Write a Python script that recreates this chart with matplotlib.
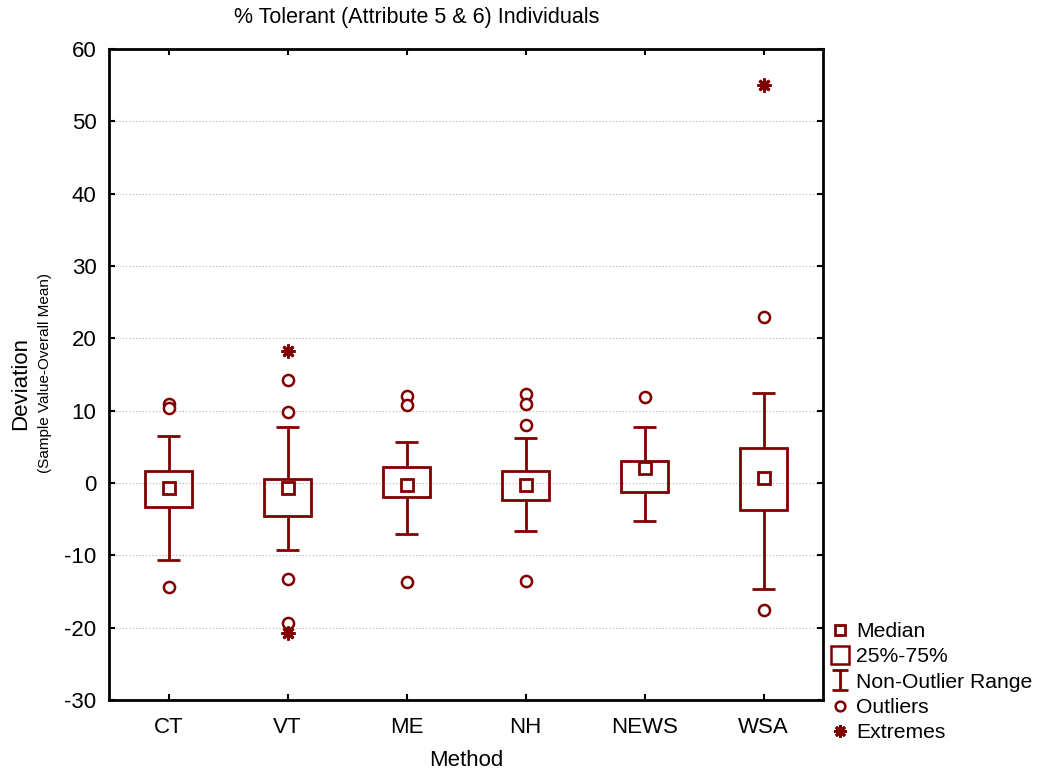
import matplotlib
matplotlib.use("Agg")
import matplotlib.pyplot as plt
from matplotlib.lines import Line2D
from matplotlib.path import Path

plt.rcParams['font.family'] = ['Liberation Sans', 'DejaVu Sans']
plt.rcParams['axes.unicode_minus'] = False

methods = ["CT", "VT", "ME", "NH", "NEWS", "WSA"]
medians = [-0.75, -0.75, -0.3, -0.3, 2.1, 0.7]
q1 = [-3.3, -4.6, -2.0, -2.3, -1.2, -3.7]
q3 = [1.7, 0.55, 2.25, 1.65, 3.1, 4.8]
whis_lo = [-10.7, -9.25, -7.0, -6.7, -5.2, -14.7]
whis_hi = [6.5, 7.7, 5.65, 6.2, 7.7, 12.5]
outliers = [
    [10.9, 10.3, -14.4],
    [9.8, 14.3, -13.25, -19.4],
    [12.0, 10.75, -13.7],
    [12.3, 10.9, 7.95, -13.5],
    [11.9],
    [23.0, -17.5],
]
extremes = [
    [],
    [18.2, -20.7],
    [],
    [],
    [],
    [55.0],
]
yticks = [-30, -20, -10, 0, 10, 20, 30, 40, 50, 60]

col = "#800000"
W, H = 1039, 776
fig = plt.figure(figsize=(W / 100, H / 100), dpi=100)
ax = fig.add_axes([109 / W, 1 - 700 / H, (823 - 109) / W, (700 - 49) / H])

x = list(range(len(methods)))
bw = 0.4
cw = 0.2

ax.bar(x, [b - a for a, b in zip(q1, q3)], bottom=q1, width=bw,
       facecolor="none", edgecolor=col, linewidth=2, zorder=3)
ax.vlines(x, q3, whis_hi, color=col, linewidth=2, zorder=3)
ax.vlines(x, whis_lo, q1, color=col, linewidth=2, zorder=3)
ax.hlines(whis_hi, [i - cw / 2 for i in x], [i + cw / 2 for i in x], color=col, linewidth=2, zorder=3)
ax.hlines(whis_lo, [i - cw / 2 for i in x], [i + cw / 2 for i in x], color=col, linewidth=2, zorder=3)
ax.plot(x, medians, linestyle="none", marker="s", markersize=8,
        markerfacecolor="white", markeredgecolor=col, markeredgewidth=2, zorder=4)
for i, vals in enumerate(outliers):
    ax.plot([i] * len(vals), vals, linestyle="none", marker="o", markersize=8,
            markerfacecolor="white", markeredgecolor=col, markeredgewidth=1.8, zorder=4)
for i, vals in enumerate(extremes):
    if vals:
        ax.plot([i] * len(vals), vals, linestyle="none", marker=(8, 2, 0), markersize=10,
                color=col, markeredgewidth=2, zorder=4)

ax.set_xlim(-0.5, len(methods) - 0.5)
ax.set_ylim(-30, 60)
ax.set_yticks(yticks)
ax.set_xticks(x)
ax.set_xticklabels(methods)
ax.tick_params(direction="in", length=4, width=1.5, labelsize=16, top=True, right=True)
ax.tick_params(axis="x", pad=12)
ax.tick_params(axis="y", pad=9)
ax.yaxis.grid(True, linestyle=(0, (1, 2)), color="#b0b0b0", linewidth=0.8)
ax.set_axisbelow(True)
for s in ax.spines.values():
    s.set_linewidth(2)

fig.text(417 / W, 1 - 17 / H, "% Tolerant (Attribute 5 & 6) Individuals", ha="center", va="center", fontsize=15.5)
fig.text(466 / W, 1 - 760 / H, "Method", ha="center", va="center", fontsize=16)
fig.text(21 / W, 1 - 383 / H, "Deviation", ha="center", va="center", rotation=90, fontsize=16)
fig.text(45 / W, 1 - 373 / H, "(Sample Value-Overall Mean)", ha="center", va="center", rotation=90, fontsize=11)

ibeam = Path([(-0.8, 1), (0.8, 1), (0, 1), (0, -1), (-0.8, -1), (0.8, -1)],
             [Path.MOVETO, Path.LINETO, Path.MOVETO, Path.LINETO, Path.MOVETO, Path.LINETO])
handles = [
    Line2D([], [], linestyle="none", marker="s", markersize=7, markerfacecolor="white",
           markeredgecolor=col, markeredgewidth=2),
    Line2D([], [], linestyle="none", marker="s", markersize=13.5, markerfacecolor="white",
           markeredgecolor=col, markeredgewidth=1.8),
    Line2D([], [], linestyle="none", marker=ibeam, markersize=15, markerfacecolor="none",
           markeredgecolor=col, markeredgewidth=2),
    Line2D([], [], linestyle="none", marker="o", markersize=7, markerfacecolor="white",
           markeredgecolor=col, markeredgewidth=1.8),
    Line2D([], [], linestyle="none", marker=(8, 2, 0), markersize=9, color=col,
           markeredgewidth=2),
]
labels = ["Median", "25%-75%", "Non-Outlier Range", "Outliers", "Extremes"]
fig.legend(handles, labels, loc="upper left", bbox_to_anchor=(829 / W, 1 - 622 / H),
           frameon=False, fontsize=15.2, handlelength=1.0, handletextpad=0.3,
           labelspacing=0.3, borderpad=0, borderaxespad=0)

fig.savefig("out.png", dpi=100)
